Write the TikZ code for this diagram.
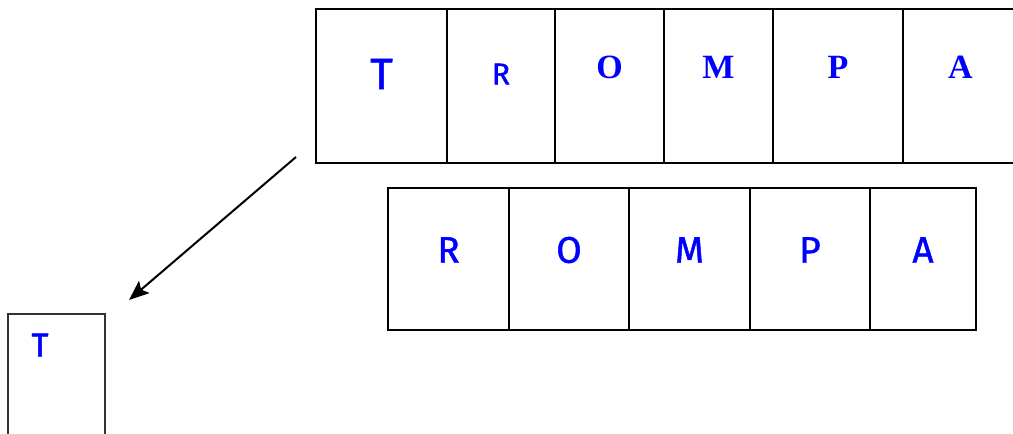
\documentclass[tikz,border=0pt]{standalone}
\usepackage{fontspec}
\newfontfamily\handfont[FakeBold=1.2]{Fira Sans}
\newfontfamily\printfont{Liberation Serif}
\usetikzlibrary{arrows.meta,positioning,calc}
\definecolor{lettercol}{RGB}{0,0,255}
\tikzset{
  cell/.style     = {rectangle, draw=black, line width=2.1pt, inner sep=0pt,
                     outer sep=0pt, minimum width=#1},
  top cell/.style = {cell=#1, minimum height=154pt},
  low cell/.style = {cell=#1, minimum height=142pt, line width=1.9pt},
  hand/.style     = {text=lettercol, inner sep=0pt,
                     font=\handfont\fontsize{#1}{#1}\selectfont},
  print/.style    = {text=lettercol, inner sep=0pt,
                     font=\printfont\bfseries\fontsize{34}{34}\selectfont},
  move/.style     = {-{Stealth[length=20pt,width=16pt,inset=4pt]}, line width=2pt},
}
\begin{document}
\begin{tikzpicture}[x=1pt, y=-1pt]
  \useasboundingbox (0,0) rectangle (1013,434);

  % the whole word
  \node[top cell=131pt, anchor=north west] (t1) at (316,9) {};
  \node[top cell=108pt, right=0pt of t1] (t2) {};
  \node[top cell=109pt, right=0pt of t2] (t3) {};
  \node[top cell=109pt, right=0pt of t3] (t4) {};
  \node[top cell=130pt, right=0pt of t4] (t5) {};
  \node[top cell=115pt, right=0pt of t5] (t6) {};

  \node[hand=44] (tT) at ($(t1.north)+(0,65)$) {T};
  \node[hand=30] (tR) at ($(t2.north)+(0,65)$) {R};
  \node[print]   (tO) at ($(t3.north)+(0,58)$) {O};
  \node[print]   (tM) at ($(t4.north)+(0,58)$) {M};
  \node[print]   (tP) at ($(t5.north)+(0,58)$) {P};
  \node[print]   (tA) at ($(t6.north)+(0,58)$) {A};

  % what is left
  \node[low cell=121pt, anchor=north west] (b1) at (388,188) {};
  \node[low cell=120pt, right=0pt of b1] (b2) {};
  \node[low cell=121pt, right=0pt of b2] (b3) {};
  \node[low cell=120pt, right=0pt of b3] (b4) {};
  \node[low cell=106pt, right=0pt of b4] (b5) {};

  \node[hand=37] (bR) at ($(b1.north)+(0,62)$) {R};
  \node[hand=37] (bO) at ($(b2.north)+(0,62)$) {O};
  \node[hand=37] (bM) at ($(b3.north)+(0,62)$) {M};
  \node[hand=37] (bP) at ($(b4.north)+(0,62)$) {P};
  \node[hand=37] (bA) at ($(b5.north)+(0,62)$) {A};

  % the first letter taken out
  \node[cell=97pt, minimum height=126pt, line width=1.6pt, draw=black!80,
        anchor=north west] (s1) at (8,314) {};
  \node[hand=33] (sT) at ($(s1.north west)+(32,31)$) {T};

  \coordinate (from) at ($(t1.south west)+(-20,-6)$);
  \coordinate (to) at ($(s1.north east)+(24,-14)$);
  \draw[move] (from) -- (to);
\end{tikzpicture}
\end{document}
